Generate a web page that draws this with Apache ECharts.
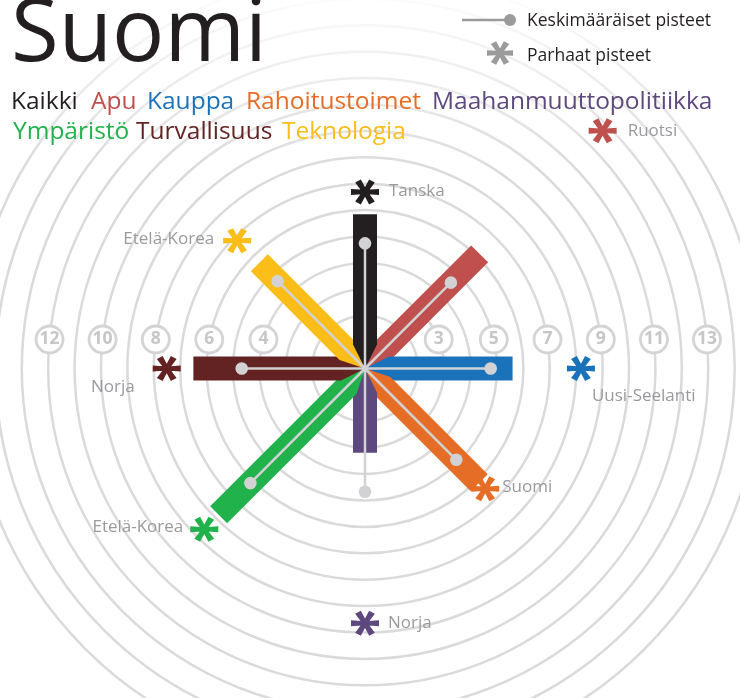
<!DOCTYPE html>
<html>
<head>
<meta charset="utf-8">
<script src="https://cdn.jsdelivr.net/npm/echarts/dist/echarts.min.js"></script>
<style>
html,body{margin:0;padding:0;background:#fff;}
#c{width:740px;height:698px;}
</style>
</head>
<body>
<div id="c"></div>
<script>
// ---- data ----
const categories = ['Kaikki','Apu','Kauppa','Rahoitustoimet','Maahanmuuttopolitiikka','Ympäristö','Turvallisuus','Teknologia'];
const scores     = [5.84, 6.14, 5.59, 6.12, 3.19, 7.84, 6.50, 5.66];
const averages   = [4.74, 4.60, 4.76, 4.89, 4.67, 6.14, 4.67, 4.68];
const bestScores = [6.69, 12.73, 8.18, 6.44, 9.65, 8.61, 7.51, 6.85];
const bestCountries = ['Tanska','Ruotsi','Uusi-Seelanti','Suomi','Norja','Etelä-Korea','Norja','Etelä-Korea'];
const ringTicks  = [3,4,5,6,7,8,9,10,11,12,13];
const titleText  = 'Suomi';
const legendAvg  = 'Keskimääräiset pisteet';
const legendBest = 'Parhaat pisteet';

// ---- styles / layout ----
const colors = ['#231f20','#c0504d','#1a72bb','#e66d25','#5e497f','#22b24c','#622322','#fbbd17'];
const K = 26.4, CX = 365, CY = 368.5, RMAX = 15;
const step = 360 / categories.length;
const angleOf = i => i * step;
const FONT = '"Open Sans", "Noto Sans", sans-serif';
const GREY_TXT = '#9a9a9e';

const AST_L = 14, AST_A = 2.3, AST_B = 3.3;
function asteriskArms() {
  const base = [[-AST_L,-AST_B],[0,-AST_A],[AST_L,-AST_B],[AST_L,AST_B],[0,AST_A],[-AST_L,AST_B]];
  return [0,60,120].map(deg => {
    const t = deg * Math.PI / 180, c = Math.cos(t), s = Math.sin(t);
    return base.map(p => [p[0]*c - p[1]*s, p[0]*s + p[1]*c]);
  });
}
const ARMS = asteriskArms();
const AST = ARMS.map(arm => arm.map((p,j)=>(j===0?'M':'L')+p[0].toFixed(3)+' '+p[1].toFixed(3)).join(' ')+' Z').join(' ');

const bestLabelCfg = [
  {position:'right', distance:10, offset:[0,-1]},
  {position:'right', distance:11, offset:[0,0]},
  {position:'right', distance:0,  offset:[-3,28]},
  {position:'right', distance:3,  offset:[0,-2]},
  {position:'right', distance:9,  offset:[0,0]},
  {position:'left',  distance:7,  offset:[0,-2]},
  {position:'left',  distance:18, offset:[0,19]},
  {position:'left',  distance:9,  offset:[0,-1]}
];

// legend word layout (x of each word, row)
const wordLayout = [[11,0],[91,0],[147,0],[246,0],[432,0],[13,1],[136,1],[282,1]];
const rowY = [102, 132];

const chart = echarts.init(document.getElementById('c'), null, {renderer:'canvas'});

const graphics = [
  {type:'rect', z:1, silent:true, shape:{x:0,y:0,width:740,height:175},
   style:{fill:new echarts.graphic.LinearGradient(0,0,0,1,[
     {offset:0,color:'rgba(255,255,255,0.92)'},{offset:1,color:'rgba(255,255,255,0)'}])}},
  {type:'text', z:10, style:{text:titleText, x:11, y:36, font:'87px '+FONT, fill:'#231f20', verticalAlign:'middle'}},
  {type:'line', z:10, shape:{x1:462,y1:20,x2:508,y2:20}, style:{stroke:'#9b9b9b', lineWidth:2.5}},
  {type:'circle', z:10, shape:{cx:510,cy:20,r:6}, style:{fill:'#9b9b9b'}},
  {type:'text', z:10, style:{text:legendAvg, x:527, y:21, font:'17.5px '+FONT, fill:'#231f20', verticalAlign:'middle'}},
  {type:'text', z:10, style:{text:legendBest, x:527, y:56, font:'17.5px '+FONT, fill:'#231f20', verticalAlign:'middle'}}
];
// legend asterisk
ARMS.forEach(arm => {
  graphics.push({type:'polygon', z:10, shape:{points:arm.map(p=>[500+p[0]*0.93, 53+p[1]*0.85])}, style:{fill:'#9b9b9b'}});
});
categories.forEach((c, i) => {
  graphics.push({type:'text', z:10, style:{text:c, x:wordLayout[i][0], y:rowY[wordLayout[i][1]],
    font:'24.5px '+FONT, fill:colors[i], verticalAlign:'middle'}});
});

const option = {
  animation:false,
  backgroundColor:'#fff',
  polar:{center:[CX, CY], radius: RMAX*K},
  radiusAxis:{type:'value', min:0, max:RMAX, interval:1,
    axisLine:{show:false}, axisTick:{show:false}, axisLabel:{show:false},
    splitLine:{show:true, lineStyle:{color:'#dadada', width:2.5}}},
  angleAxis:{type:'value', min:0, max:360, startAngle:90, clockwise:true,
    axisLine:{show:false}, axisTick:{show:false}, axisLabel:{show:false}, splitLine:{show:false}},
  graphic:graphics,
  series:[
    { // best scores (asterisks)
      type:'scatter', coordinateSystem:'polar', z:3,
      symbol:'path://'+AST, symbolSize:[28,25],
      data: bestScores.map((v,i)=>({value:[v, angleOf(i)], itemStyle:{color:colors[i], opacity:1},
        label:Object.assign({show:true, formatter:bestCountries[i], color:GREY_TXT, fontSize:17, fontFamily:FONT}, bestLabelCfg[i])}))
    },
    { // bars
      type:'custom', coordinateSystem:'polar', z:4,
      data: scores.map((v,i)=>[v, angleOf(i)]),
      renderItem:function(params, api){
        const i = params.dataIndex;
        const v = api.value(0), a = api.value(1);
        const c = api.coord([0, a]), e = api.coord([v, a]);
        const dx = e[0]-c[0], dy = e[1]-c[1], len = Math.sqrt(dx*dx+dy*dy);
        const ux = dx/len, uy = dy/len, nx = -uy, ny = ux, hw = 12, t = 24;
        const pts = [
          [c[0], c[1]],
          [c[0]+ux*t+nx*hw, c[1]+uy*t+ny*hw],
          [e[0]+nx*hw, e[1]+ny*hw],
          [e[0]-nx*hw, e[1]-ny*hw],
          [c[0]+ux*t-nx*hw, c[1]+uy*t-ny*hw]
        ];
        return {type:'polygon', z2:(i===0?20:i), shape:{points:pts}, style:{fill:colors[i]}};
      }
    },
    { // averages
      type:'custom', coordinateSystem:'polar', z:5,
      data: averages.map((v,i)=>[v, angleOf(i)]),
      renderItem:function(params, api){
        const a = api.value(1);
        const c = api.coord([0, a]), p = api.coord([api.value(0), a]);
        return {type:'group', children:[
          {type:'line', shape:{x1:c[0],y1:c[1],x2:p[0],y2:p[1]}, style:{stroke:'#d2d2d4', lineWidth:2.5}},
          {type:'circle', shape:{cx:p[0],cy:p[1],r:6.3}, style:{fill:'#d2d2d4'}}
        ]};
      }
    },
    { // ring tick labels
      type:'scatter', coordinateSystem:'polar', z:6,
      symbol:'circle', symbolSize:27,
      itemStyle:{color:'#ffffff', borderColor:'#d4d4d4', borderWidth:2.8, opacity:1},
      label:{show:true, position:'inside', formatter:p=>String(p.value[0]), color:'#c6c6c6',
        fontWeight:'bold', fontSize:17.5, fontFamily:FONT},
      data: ringTicks.map(n=>{
        const d = Math.asin(29/(n*K))*180/Math.PI;
        return [n, n%2 ? 90-d : 270+d];
      })
    }
  ]
};
chart.setOption(option);
</script>
</body>
</html>
